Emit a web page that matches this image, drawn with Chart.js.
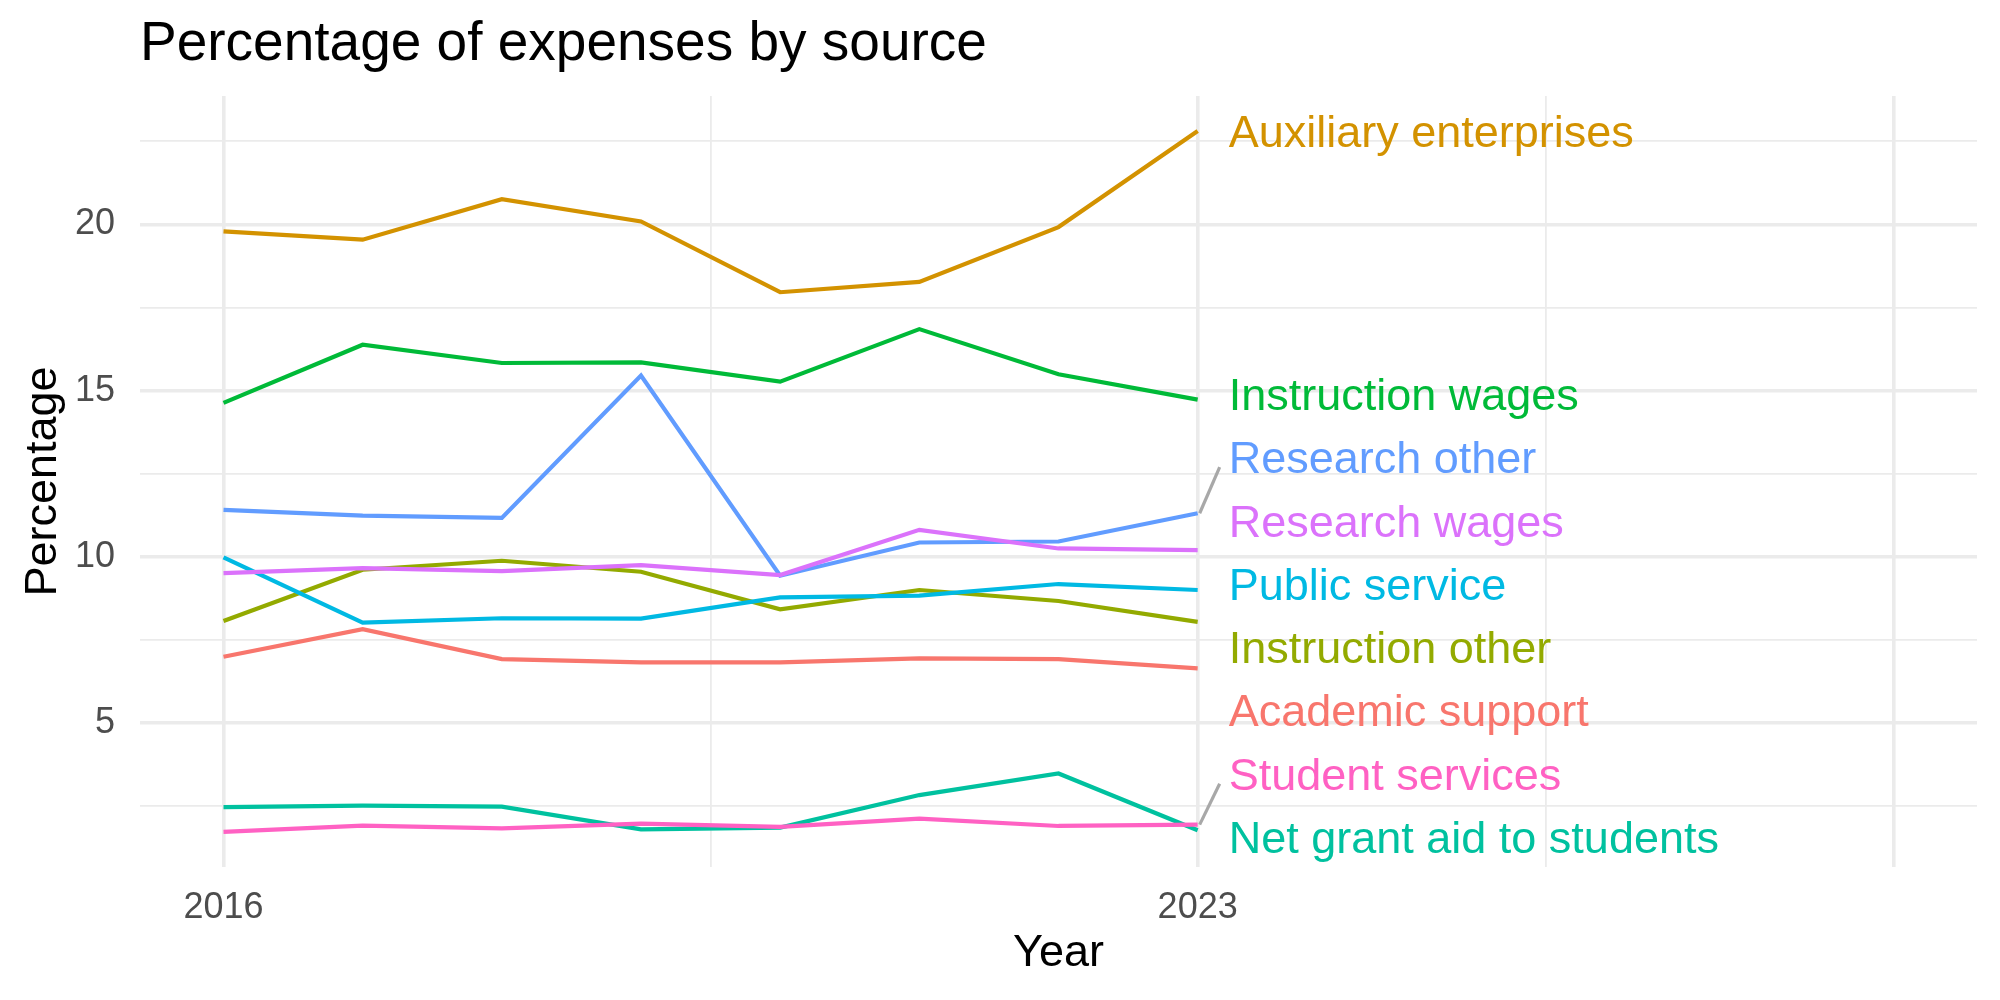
<!DOCTYPE html>
<html><head><meta charset="utf-8">
<script src="https://cdn.jsdelivr.net/npm/chart.js@4.4.1/dist/chart.umd.min.js"></script>
<style>html,body{margin:0;padding:0;background:#fff}canvas{display:block}</style>
</head><body>
<canvas id="c" width="2000" height="1000"></canvas>
<script>
const years = [2016, 2017, 2018, 2019, 2020, 2021, 2022, 2023];
const categories = ["Academic support", "Auxiliary enterprises", "Instruction other", "Instruction wages",
  "Net grant aid to students", "Public service", "Research other", "Research wages", "Student services"];
const academicSupport      = [6.99, 7.82, 6.92, 6.82, 6.82, 6.94, 6.92, 6.64];
const auxiliaryEnterprises = [19.79, 19.54, 20.76, 20.09, 17.96, 18.27, 19.92, 22.81];
const instructionOther     = [8.07, 9.61, 9.88, 9.55, 8.42, 9.00, 8.67, 8.04];
const instructionWages     = [14.63, 16.38, 15.83, 15.85, 15.27, 16.85, 15.49, 14.73];
const netGrantAid          = [2.47, 2.51, 2.48, 1.80, 1.85, 2.83, 3.48, 1.77];
const publicService        = [9.98, 8.02, 8.15, 8.14, 8.78, 8.83, 9.18, 9.00];
const researchOther        = [11.41, 11.24, 11.17, 15.45, 9.43, 10.43, 10.46, 11.31];
const researchWages        = [9.51, 9.66, 9.57, 9.75, 9.45, 10.81, 10.25, 10.20];
const studentServices      = [1.72, 1.91, 1.83, 1.97, 1.87, 2.12, 1.90, 1.94];
const colors = ["#F8766D", "#D39200", "#93AA00", "#00BA38", "#00C19F", "#00B9E3", "#619CFF", "#DB72FB", "#FF61C3"];
const yMajorBreaks = [5, 10, 15, 20];
const yMinorBreaks = [2.5, 7.5, 12.5, 17.5, 22.5];
const xMajorBreaks = [2016, 2023, 2028];
const xMinorBreaks = [2019.5, 2025.5];
const xTickLabels = [2016, 2023];
const xLimits = [2016, 2028];

const seriesList = [academicSupport, auxiliaryEnterprises, instructionOther, instructionWages,
  netGrantAid, publicService, researchOther, researchWages, studentServices];

const FONT = '"Liberation Sans", Arial, Helvetica, sans-serif';
Chart.defaults.font.family = FONT;

const allVals = seriesList.flat();
const yMin = Math.min(...allVals), yMax = Math.max(...allVals);
const ySpan = yMax - yMin;
const xSpan = xLimits[1] - xLimits[0];

const repelPlugin = {
  id: 'repelLabels',
  afterDatasetsDraw(chart) {
    const {ctx, chartArea, scales: {x, y}} = chart;
    const xEnd = x.getPixelForValue(years[years.length - 1]);
    const items = seriesList.map((vals, i) => ({
      name: categories[i], color: colors[i], py: y.getPixelForValue(vals[vals.length - 1])
    }));
    items.sort((a, b) => a.py - b.py);
    const gap = 63.3;
    const minY = chartArea.top + 30, maxY = chartArea.bottom - 30;
    let cl = items.map(it => ({its: [it]}));
    const place = c => {
      const n = c.its.length;
      const m = c.its.reduce((s, it) => s + it.py, 0) / n;
      let top = m - (n - 1) * gap / 2;
      top = Math.max(minY, Math.min(top, maxY - (n - 1) * gap));
      c.top = top; c.bot = top + (n - 1) * gap;
    };
    cl.forEach(place);
    let changed = true;
    while (changed) {
      changed = false;
      for (let k = 0; k < cl.length - 1; k++) {
        if (cl[k + 1].top - cl[k].bot < gap) {
          cl[k].its = cl[k].its.concat(cl[k + 1].its);
          cl.splice(k + 1, 1);
          place(cl[k]);
          changed = true;
          break;
        }
      }
    }
    cl.forEach(c => c.its.forEach((it, j) => { it.ly = c.top + j * gap; }));

    ctx.save();
    ctx.font = '45px ' + FONT;
    ctx.textAlign = 'left';
    ctx.textBaseline = 'alphabetic';
    items.forEach(it => {
      const dy = it.ly - it.py;
      if (Math.abs(dy) > 45) {
        ctx.strokeStyle = '#A8A8A8';
        ctx.lineWidth = 3.2;
        ctx.beginPath();
        ctx.moveTo(xEnd + 2, it.py);
        ctx.lineTo(xEnd + 22, it.ly - Math.sign(dy) * 10);
        ctx.stroke();
      }
      ctx.fillStyle = it.color;
      ctx.fillText(it.name, xEnd + 31, it.ly + 16);
    });
    ctx.restore();
  }
};

new Chart(document.getElementById('c'), {
  type: 'line',
  data: {
    datasets: seriesList.map((vals, i) => ({
      label: categories[i],
      data: years.map((yr, j) => ({x: yr, y: vals[j]})),
      borderColor: colors[i],
      backgroundColor: colors[i],
      borderWidth: 4.2,
      pointRadius: 0,
      tension: 0,
      fill: false,
      order: seriesList.length - i
    }))
  },
  options: {
    responsive: false,
    animation: false,
    devicePixelRatio: 1,
    layout: {padding: {top: 0, right: 23, bottom: 0, left: 0}},
    plugins: {
      legend: {display: false},
      tooltip: {enabled: false},
      title: {
        display: true, text: 'Percentage of expenses by source', align: 'start', fullSize: false,
        color: '#000', font: {size: 55, weight: 'normal', lineHeight: 1.2},
        padding: {top: 12, bottom: 18}
      }
    },
    scales: {
      x: {
        type: 'linear',
        min: xLimits[0] - 0.05 * xSpan,
        max: xLimits[1] + 0.05 * xSpan,
        afterBuildTicks: s => { s.ticks = [...xMajorBreaks, ...xMinorBreaks].sort((a, b) => a - b).map(v => ({value: v})); },
        afterFit: s => { s.height = 133; },
        border: {display: false},
        grid: {
          color: '#EBEBEB', drawTicks: false,
          lineWidth: c => (c.tick && xMajorBreaks.includes(c.tick.value)) ? 3.6 : 1.8
        },
        ticks: {
          autoSkip: false, maxRotation: 0, minRotation: 0, padding: 19, color: '#4D4D4D',
          font: {size: 36},
          callback: v => xTickLabels.includes(v) ? String(v) : ''
        },
        title: {display: true, text: 'Year', color: '#000', font: {size: 45, lineHeight: 1}, padding: {top: 0, bottom: 24}}
      },
      y: {
        type: 'linear',
        min: yMin - 0.05 * ySpan,
        max: yMax + 0.05 * ySpan,
        afterBuildTicks: s => { s.ticks = [...yMajorBreaks, ...yMinorBreaks].sort((a, b) => a - b).map(v => ({value: v})); },
        afterFit: s => { s.width = 140; },
        border: {display: false},
        grid: {
          color: '#EBEBEB', drawTicks: false,
          lineWidth: c => (c.tick && yMajorBreaks.includes(c.tick.value)) ? 3.6 : 1.8
        },
        ticks: {
          padding: 25, color: '#4D4D4D', font: {size: 36},
          callback: v => yMajorBreaks.includes(v) ? String(v) : ''
        },
        title: {display: true, text: 'Percentage', color: '#000', font: {size: 45, lineHeight: 1}, padding: {top: 21, bottom: 0}}
      }
    }
  },
  plugins: [repelPlugin]
});
</script>
</body></html>
